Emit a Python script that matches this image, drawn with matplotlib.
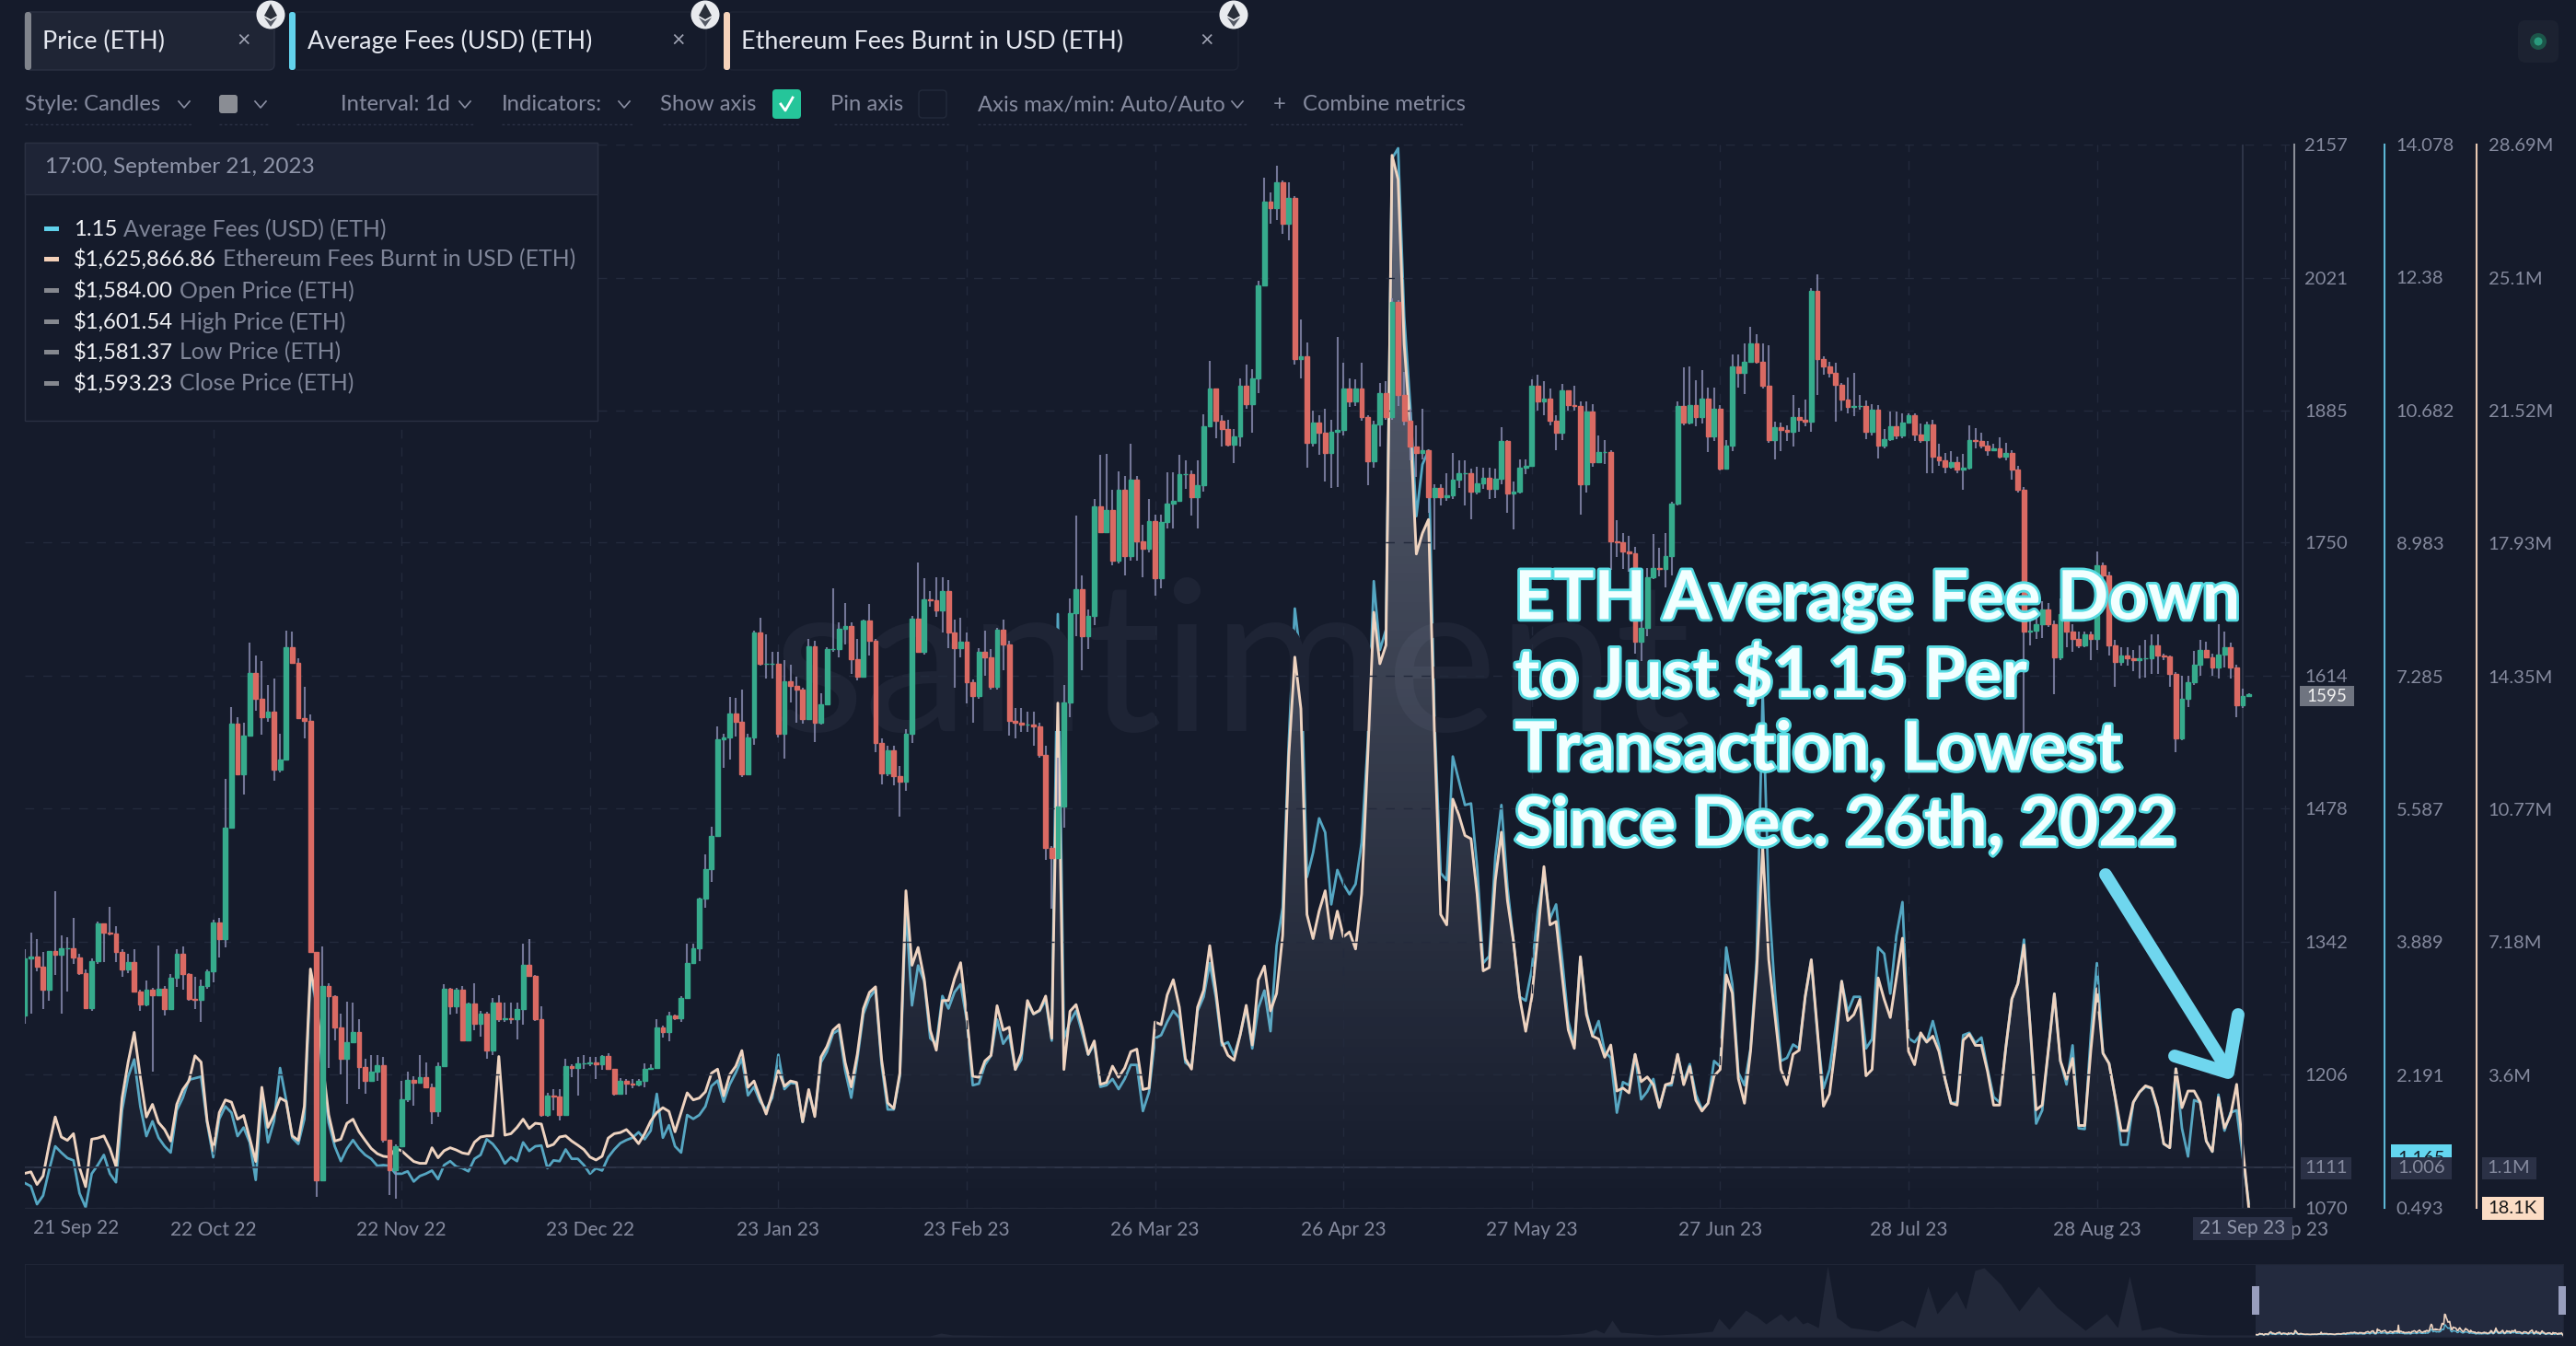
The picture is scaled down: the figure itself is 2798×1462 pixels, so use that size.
import matplotlib
matplotlib.use('Agg')
import matplotlib.pyplot as plt
import matplotlib.patheffects as pe
from matplotlib.patches import Rectangle, FancyBboxPatch, Circle, Polygon
import numpy as np

plt.rcParams['font.family'] = ['Lato', 'DejaVu Sans']

# daily candles, 21 Sep 22 -> 22 Sep 23
first_open = 1267
closes = [
    1325,1327,1317,1293,1333,1329,1335,1335,1326,1310,
    1274,1322,1361,1351,1350,1332,1314,1321,1291,1278,
    1293,1287,1294,1273,1305,1330,1309,1284,1283,1297,
    1312,1362,1345,1459,1565,1513,1553,1617,1590,1572,
    1577,1518,1528,1643,1627,1571,1568,1332,1098,1297,
    1286,1254,1222,1239,1250,1214,1200,1209,1216,1140,
    1109,1133,1181,1201,1198,1204,1193,1169,1215,1294,
    1276,1293,1241,1279,1258,1269,1231,1280,1263,1264,
    1263,1273,1318,1307,1263,1165,1185,1184,1165,1215,
    1213,1218,1218,1219,1217,1225,1212,1187,1200,1197,
    1196,1200,1212,1213,1254,1250,1267,1264,1285,1320,
    1335,1386,1416,1450,1549,1551,1575,1567,1513,1551,
    1658,1626,1626,1626,1555,1608,1604,1600,1570,1644,
    1566,1585,1641,1641,1662,1665,1631,1613,1670,1650,
    1545,1514,1538,1511,1506,1555,1672,1638,1692,1691,
    1681,1701,1658,1642,1649,1607,1593,1638,1633,1603,
    1661,1646,1568,1566,1564,1564,1562,1533,1438,1428,
    1480,1587,1678,1702,1654,1675,1787,1761,1783,1732,
    1804,1736,1814,1751,1744,1772,1714,1771,1790,1793,
    1820,1820,1797,1809,1869,1908,1875,1866,1850,1859,
    1910,1892,1918,2013,2099,2092,2118,2076,2102,1938,
    1941,1852,1873,1862,1842,1863,1865,1908,1894,1908,
    1878,1833,1871,1903,1878,1996,1901,1875,1848,1842,
    1845,1797,1806,1797,1798,1814,1821,1821,1802,1811,
    1816,1805,1815,1854,1800,1802,1827,1829,1910,1894,
    1897,1875,1862,1906,1891,1890,1810,1884,1832,1843,
    1843,1751,1750,1741,1739,1649,1663,1715,1724,1723,
    1736,1790,1890,1873,1891,1878,1897,1859,1887,1826,
    1849,1930,1924,1935,1954,1935,1910,1855,1868,1865,
    1863,1878,1876,1874,2007,1938,1930,1924,1911,1896,
    1889,1890,1890,1863,1886,1849,1856,1869,1860,1873,
    1880,1861,1855,1871,1838,1834,1828,1832,1825,1827,
    1855,1854,1849,1845,1846,1838,1842,1825,1804,1659,
    1660,1667,1682,1667,1633,1677,1659,1652,1645,1656,
    1652,1727,1717,1645,1628,1635,1632,1630,1632,1632,
    1645,1635,1634,1616,1550,1590,1607,1625,1640,1633,
    1622,1636,1643,1622,1584,1593,1595]
highs = [
    1334,1351,1345,1332,1333,1394,1349,1347,1366,1330,
    1314,1325,1363,1360,1378,1358,1334,1330,1334,1293,
    1302,1295,1338,1297,1309,1334,1337,1310,1306,1303,
    1314,1365,1366,1509,1582,1572,1566,1648,1635,1629,
    1605,1611,1555,1660,1659,1632,1603,1574,1332,1337,
    1300,1287,1269,1281,1280,1263,1222,1226,1226,1224,
    1140,1135,1200,1209,1205,1226,1219,1197,1219,1299,
    1295,1295,1297,1280,1300,1271,1270,1285,1287,1280,
    1280,1280,1340,1345,1308,1276,1188,1191,1191,1222,
    1217,1224,1226,1224,1224,1226,1228,1212,1203,1202,
    1202,1202,1218,1217,1263,1256,1270,1268,1286,1340,
    1340,1387,1431,1460,1562,1555,1592,1591,1600,1555,
    1660,1673,1656,1638,1638,1630,1625,1613,1602,1652,
    1650,1596,1643,1703,1669,1688,1669,1652,1671,1687,
    1652,1550,1542,1542,1522,1559,1675,1730,1714,1701,
    1715,1715,1712,1671,1673,1658,1610,1642,1660,1641,
    1663,1671,1650,1581,1581,1577,1577,1566,1542,1440,
    1530,1605,1693,1778,1717,1682,1795,1840,1841,1804,
    1823,1818,1851,1818,1768,1795,1779,1779,1822,1822,
    1840,1834,1824,1834,1881,1936,1908,1880,1876,1866,
    1918,1932,1927,2018,2123,2108,2135,2120,2118,2104,
    1978,1955,1885,1880,1887,1876,1960,1934,1918,1917,
    1934,1880,1875,1913,1915,2000,1998,1925,1887,1870,
    1887,1845,1810,1810,1821,1842,1834,1834,1826,1828,
    1827,1827,1826,1868,1855,1813,1835,1835,1917,1922,
    1915,1908,1880,1912,1905,1910,1894,1894,1892,1860,
    1855,1845,1773,1760,1757,1746,1673,1724,1759,1745,
    1760,1792,1894,1929,1930,1916,1926,1909,1909,1891,
    1855,1942,1942,1954,1971,1963,1954,1952,1874,1873,
    1870,1901,1888,1896,2010,2024,1941,1935,1934,1913,
    1919,1924,1901,1895,1892,1891,1866,1884,1884,1882,
    1882,1882,1872,1874,1876,1851,1842,1844,1838,1841,
    1870,1867,1862,1854,1851,1858,1852,1845,1829,1807,
    1682,1682,1690,1688,1670,1693,1677,1667,1659,1659,
    1659,1741,1730,1720,1651,1643,1643,1640,1645,1651,
    1656,1656,1637,1635,1618,1614,1614,1639,1651,1649,
    1637,1667,1659,1648,1625,1601,1596]
lows = [
    1258,1269,1312,1273,1282,1308,1269,1291,1319,1308,
    1274,1271,1319,1321,1349,1321,1306,1310,1291,1271,
    1276,1209,1286,1267,1273,1296,1293,1282,1273,1260,
    1294,1301,1326,1336,1460,1513,1493,1552,1578,1554,
    1567,1507,1515,1528,1626,1571,1550,1332,1081,1097,
    1213,1241,1206,1176,1239,1191,1187,1200,1200,1137,
    1083,1079,1133,1178,1174,1198,1193,1156,1163,1215,
    1268,1269,1240,1241,1252,1245,1222,1226,1260,1260,
    1258,1242,1257,1306,1261,1163,1163,1170,1159,1165,
    1204,1185,1212,1215,1202,1211,1211,1185,1187,1186,
    1192,1194,1193,1211,1213,1244,1240,1262,1260,1285,
    1319,1322,1377,1403,1450,1520,1528,1552,1510,1513,
    1543,1624,1611,1611,1551,1529,1587,1566,1565,1570,
    1546,1564,1585,1638,1633,1646,1616,1609,1613,1635,
    1536,1503,1511,1502,1470,1496,1545,1638,1636,1685,
    1674,1658,1642,1602,1633,1586,1566,1590,1614,1600,
    1600,1620,1553,1550,1557,1557,1542,1530,1426,1376,
    1428,1459,1572,1654,1620,1641,1666,1761,1760,1727,
    1729,1717,1732,1732,1715,1740,1696,1703,1765,1765,
    1795,1805,1778,1765,1802,1869,1857,1848,1848,1831,
    1848,1887,1862,1903,2013,2076,2080,2066,2059,1932,
    1918,1827,1848,1840,1813,1806,1807,1860,1889,1890,
    1875,1809,1827,1848,1876,1876,1890,1870,1834,1817,
    1835,1781,1743,1788,1793,1795,1806,1788,1774,1799,
    1805,1795,1796,1810,1781,1764,1800,1820,1828,1885,
    1880,1870,1845,1855,1885,1885,1779,1801,1828,1832,
    1830,1722,1735,1723,1720,1637,1629,1654,1713,1716,
    1704,1717,1788,1870,1871,1869,1872,1843,1854,1824,
    1826,1844,1909,1902,1935,1933,1908,1852,1835,1844,
    1854,1848,1863,1869,1863,1901,1922,1919,1874,1885,
    1882,1879,1886,1856,1860,1836,1846,1854,1856,1857,
    1874,1854,1852,1821,1821,1829,1821,1826,1821,1804,
    1825,1846,1846,1839,1844,1836,1834,1814,1801,1553,
    1645,1652,1653,1664,1595,1630,1643,1638,1642,1643,
    1630,1640,1700,1635,1603,1624,1624,1619,1611,1612,
    1616,1616,1630,1603,1536,1548,1582,1605,1614,1632,
    1614,1611,1622,1611,1572,1581,1593]

# Ethereum fees burnt, million USD
burnt = [
    0.95,0.99,0.65,0.88,1.73,2.47,1.93,1.84,2.02,1.10,
    0.59,1.87,1.90,1.96,1.62,1.14,2.98,3.95,4.75,3.55,
    2.47,2.81,2.32,2.13,1.82,2.81,3.21,3.44,4.12,3.95,
    2.36,1.56,2.59,2.93,2.87,2.41,2.51,1.90,1.27,3.27,
    2.19,2.53,2.98,2.89,1.96,1.84,2.76,6.46,5.61,3.90,
    2.53,1.82,1.87,2.30,2.41,2.07,1.84,1.62,1.48,1.41,
    1.39,1.62,1.56,1.41,1.27,1.22,1.22,1.64,1.37,1.56,
    1.64,1.58,1.50,1.47,1.79,1.93,1.96,1.96,4.10,1.98,
    2.02,2.19,2.41,2.16,2.30,2.28,1.67,1.73,1.93,1.96,
    1.82,1.71,1.59,1.39,1.31,1.41,1.90,2.02,2.05,2.13,
    1.96,1.75,2.02,2.36,2.59,2.72,2.62,2.07,2.59,3.12,
    2.93,2.98,3.15,3.65,3.76,3.04,3.61,3.84,4.26,3.27,
    3.44,2.98,2.55,3.10,3.72,3.30,3.44,3.40,2.34,3.21,
    2.48,4.08,4.37,4.81,4.96,3.94,3.28,4.16,5.39,5.83,
    5.98,4.01,2.85,2.70,3.65,8.57,6.56,7.04,6.20,4.81,
    4.27,5.61,5.61,6.20,6.63,5.18,3.57,3.54,3.98,4.13,
    5.47,4.81,4.89,3.75,4.19,5.61,5.25,5.35,5.73,4.59,
    13.63,3.75,5.32,5.50,4.89,4.16,4.52,3.35,3.40,3.84,
    3.54,3.79,4.23,4.30,3.21,3.25,5.03,4.96,5.76,6.17,
    5.43,4.04,3.76,5.43,5.89,7.09,5.89,4.50,4.13,4.00,
    4.68,5.48,4.41,6.17,6.54,5.33,5.80,7.37,12.19,14.87,
    13.48,7.93,7.28,8.02,8.57,7.28,8.02,7.33,7.46,7.00,
    8.48,12.19,16.08,14.69,15.19,28.40,27.75,23.30,21.08,17.65,
    18.21,18.58,12.74,7.93,7.65,11.04,10.61,10.06,9.97,8.48,
    6.41,6.50,8.85,10.15,8.30,7.19,5.70,4.78,5.70,7.37,
    9.22,7.65,7.74,6.26,4.82,4.32,6.79,5.23,4.65,4.57,
    4.08,4.41,3.17,3.25,3.12,4.16,3.42,3.55,3.34,2.73,
    3.34,3.39,4.16,3.34,3.83,2.92,2.63,2.84,3.58,3.75,
    6.30,5.81,3.50,2.84,4.24,6.38,9.76,6.71,5.23,3.75,
    3.34,4.16,4.27,5.72,6.71,4.82,2.76,3.09,4.41,6.13,
    5.07,5.23,5.64,3.58,3.75,6.22,5.64,5.15,6.22,7.29,
    4.24,3.88,4.74,4.49,4.65,4.24,3.50,2.84,2.79,4.54,
    4.70,4.40,4.40,3.70,2.79,2.79,4.33,5.65,6.07,7.11,
    4.95,2.66,2.79,4.26,5.79,3.98,3.49,4.05,2.24,2.24,
    4.26,5.93,4.19,3.91,3.00,2.10,2.10,2.87,3.14,3.31,
    3.25,2.72,1.75,1.64,3.77,2.72,3.17,3.17,2.87,1.82,
    1.54,3.00,2.17,2.52,3.35,1.63,0.018]

# average fee, USD
fees = [
    0.81,0.77,0.54,0.65,0.98,1.28,1.20,1.13,1.10,0.68,
    0.50,0.93,1.04,1.17,0.93,0.82,1.74,2.17,2.39,1.79,
    1.41,1.60,1.39,1.28,1.20,1.74,1.90,2.13,2.15,2.17,
    1.58,1.14,1.63,1.79,1.71,1.41,1.52,1.33,0.85,1.95,
    1.33,1.60,2.28,1.87,1.39,1.31,1.63,3.47,3.09,2.20,
    1.58,1.28,1.09,1.25,1.36,1.25,1.17,1.12,1.03,1.04,
    1.03,0.93,0.93,0.96,0.83,0.90,0.93,0.97,0.86,1.04,
    1.09,1.02,1.00,0.96,1.12,1.17,1.37,1.31,1.21,1.06,
    1.14,1.09,1.33,1.22,1.28,1.29,1.00,1.10,1.09,1.24,
    1.12,1.12,1.04,0.93,1.00,0.97,1.14,1.24,1.32,1.36,
    1.39,1.46,1.37,1.48,1.95,1.39,1.55,1.28,1.20,1.68,
    1.63,1.68,1.79,2.05,2.12,1.85,2.07,2.22,2.40,1.93,
    2.04,1.85,1.75,1.90,2.45,2.01,2.09,2.08,1.59,1.97,
    1.68,2.35,2.49,2.72,2.77,2.25,1.90,2.39,2.97,3.18,
    3.28,2.32,1.75,1.75,2.18,4.32,3.08,3.59,3.39,2.66,
    2.59,3.20,3.04,3.25,3.35,2.90,2.06,2.08,2.32,2.44,
    2.90,2.59,2.70,2.26,2.39,3.11,2.97,3.01,3.15,2.63,
    8.08,2.66,2.87,3.01,2.73,2.45,2.59,2.04,2.06,2.14,
    2.01,2.14,2.32,2.32,1.73,1.97,2.66,2.70,2.87,3.01,
    2.92,2.35,2.29,3.01,3.19,3.62,3.19,2.57,2.61,2.44,
    2.70,3.05,2.53,3.05,3.27,2.75,3.84,4.33,6.43,8.15,
    7.49,4.72,5.03,5.47,5.29,4.37,4.81,4.63,4.50,4.63,
    5.16,6.43,8.50,7.62,7.88,13.90,14.03,11.88,10.74,9.33,
    9.99,10.17,6.70,4.77,4.68,6.26,5.95,5.64,5.66,4.85,
    3.62,3.71,4.98,5.64,4.59,3.89,3.19,3.14,3.54,4.28,
    4.77,4.19,4.37,3.67,2.88,2.57,3.70,3.00,2.69,2.88,
    2.49,2.41,1.71,2.10,2.06,2.45,1.88,1.98,2.14,1.77,
    2.06,2.06,2.45,2.10,2.33,1.94,1.75,1.83,2.37,2.30,
    3.82,3.35,2.22,2.06,2.53,3.66,7.09,4.44,3.27,2.37,
    2.41,2.58,2.53,3.19,3.66,2.72,2.02,2.26,2.80,3.39,
    3.00,3.19,3.19,2.53,2.65,3.82,3.74,3.23,3.97,4.40,
    2.66,2.61,2.71,2.61,2.88,2.57,2.14,1.83,1.84,2.70,
    2.73,2.60,2.67,2.27,1.91,1.84,2.53,3.16,3.36,3.92,
    2.83,1.57,1.74,2.50,3.23,2.37,2.07,2.57,1.51,1.50,
    2.70,3.62,2.47,2.34,1.91,1.30,1.30,1.84,1.97,2.04,
    2.02,1.74,1.31,1.26,2.27,1.51,1.15,1.87,1.84,1.35,
    1.21,1.94,1.48,1.71,1.74,1.15,0.55]

# overview strip under the chart
nav_pos = [27,860,1010,1022,1035,1050,1100,1600,1668,1690,1720,1733,1742,1751,1760,1775,1800,1840,1860,
           1867,1878,1896,1908,1918,1934,1942,1950,1958,1963,1975,1985,1995,2010,2040,2066,2080,2094,2104,
           2125,2135,2145,2155,2173,2193,2214,2234,2265,2288,2300,2313,2326,2346,2366,2400,2450]
nav_level = [1,1,1,4,2,2,1,1,2,2,4,8,4,18,5,4,2,4,6,
             20,8,29,22,14,25,17,23,14,16,10,77,21,10,6,18,10,55,25,
             50,30,72,75,57,28,55,32,7,25,10,66,7,11,4,2,2]

price_ticks = [1070, 1111, 1206, 1342, 1478, 1614, 1750, 1885, 2021, 2157]
fee_ticks = [0.493, 1.006, 2.191, 3.889, 5.587, 7.285, 8.983, 10.682, 12.38, 14.078]
fee_labels = ['0.493', '', '2.191', '3.889', '5.587', '7.285', '8.983', '10.682', '12.38', '14.078']
burnt_ticks = [0.0181, 1.1, 3.6, 7.18, 10.77, 14.35, 17.93, 21.52, 25.1, 28.69]
burnt_labels = ['', '', '3.6M', '7.18M', '10.77M', '14.35M', '17.93M', '21.52M', '25.1M', '28.69M']
date_ticks = [31, 62, 93, 124, 155, 186, 217, 248, 279, 310, 341, 372]
date_labels = ['22 Oct 22', '22 Nov 22', '23 Dec 22', '23 Jan 23', '23 Feb 23', '26 Mar 23',
               '26 Apr 23', '27 May 23', '27 Jun 23', '28 Jul 23', '28 Aug 23', '28 Sep 23']

W, H = 2798, 1462
BG = '#151b2b'
GREEN = '#36ab8c'
RED = '#da6a63'
WICK = '#8b8eb3'
BLUE = '#5cb6d4'
CREAM = '#eed3c0'
MUTED = '#858a9e'

fig = plt.figure(figsize=(W / 100, H / 100), dpi=100, facecolor=BG)


def px_rect(x0, y0, x1, y1):
    return [x0 / W, 1 - y1 / H, (x1 - x0) / W, (y1 - y0) / H]


ax = fig.add_axes(px_rect(27, 157, 2492, 1312))
ax_fee = ax.twinx()
ax_burnt = ax.twinx()
ax_fee.set_zorder(1)
ax_burnt.set_zorder(2)
ax.set_zorder(3)
for a in (ax, ax_fee, ax_burnt):
    a.patch.set_visible(False)
    for side in ('left', 'top'):
        a.spines[side].set_visible(False)
    a.spines['bottom'].set_color('#232939')

days = np.arange(len(closes))
opens = np.array([first_open] + closes[:-1])
c = np.array(closes)

# area under burnt line, vertical gradient
grad = np.zeros((256, 2, 4))
grad[:, :, :3] = (0.76, 0.79, 0.86)
grad[:, :, 3] = np.linspace(0.44, 0.0, 256)[:, None]
im = ax_burnt.imshow(grad, extent=[0, 366, 0, 28.69], aspect='auto', origin='upper', zorder=1)
area = Polygon(np.r_[[[0, 0]], np.c_[days, burnt], [[366, 0]]], transform=ax_burnt.transData,
               facecolor='none', edgecolor='none')
im.set_clip_path(area)

ax_fee.plot(days, fees, color=BLUE, lw=2.0, alpha=0.9)
ax_burnt.plot(days, burnt, color=CREAM, lw=2.1, zorder=3)

# candles
ax.vlines(days, lows, highs, color=WICK, lw=1.5, alpha=0.8, zorder=2)
colors = [GREEN if c[i] >= opens[i] else RED for i in range(len(c))]
ax.bar(days, np.abs(c - opens), bottom=np.minimum(c, opens), width=0.74, color=colors,
       edgecolor=colors, linewidth=1, zorder=3)

ax.set_xlim(0, 2465 / 6.6)
ax.set_ylim(1070, 2157)
ax_fee.set_ylim(0.493, 14.078)
ax_burnt.set_ylim(0.0181, 28.69)

ax.set_xticks(date_ticks)
ax.set_xticklabels(date_labels)
ax.yaxis.tick_right()
ax.set_yticks(price_ticks)
ax.set_yticklabels([str(v) for v in price_ticks])
ax_fee.set_yticks(fee_ticks)
ax_fee.set_yticklabels(fee_labels)
ax_burnt.set_yticks(burnt_ticks)
ax_burnt.set_yticklabels(burnt_labels)
ax.tick_params(axis='x', length=0, pad=10, labelsize=15, labelcolor=MUTED)
ax.tick_params(axis='y', length=0, pad=8, labelsize=14.5, labelcolor=MUTED)
ax_fee.tick_params(axis='y', length=0, pad=9, labelsize=14.5, labelcolor=MUTED)
ax_burnt.tick_params(axis='y', length=0, pad=9, labelsize=14.5, labelcolor=MUTED)
ax.grid(True, color='#232a3c', lw=1, ls=(0, (7, 7)), zorder=0)

ax.spines['right'].set_color('#8a8e98')
ax_fee.spines['right'].set_position(('outward', 98 * 0.72))
ax_fee.spines['right'].set_color(BLUE)
ax_burnt.spines['right'].set_position(('outward', 198 * 0.72))
ax_burnt.spines['right'].set_color('#e8c8b2')
for a in (ax, ax_fee, ax_burnt):
    a.spines['right'].set_linewidth(1.5)

# crosshair on the last full day
ax.axhline(1111, color='#30374b', lw=1.3, zorder=1)
ax.axvline(365, color='#30374b', lw=1.3, zorder=1)

# watermark
ax_burnt.text(0.532, 0.505, 'santiment', transform=ax_burnt.transAxes, ha='center', va='center',
              fontsize=165, color='#1e2435', zorder=0)

# overview strip
ax_nav = fig.add_axes(px_rect(27, 1373, 2784, 1452))
ax_nav.set_facecolor(BG)
ax_nav.fill_between(nav_pos, nav_level, color='#222839', lw=0)
ax_nav.axvspan(2450, 2784, color='#232a3e', lw=0)
ax_nav.set_xlim(27, 2784)
ax_nav.set_ylim(0, 79)
ax_nav.set_xticks([])
ax_nav.set_yticks([])
for s in ax_nav.spines.values():
    s.set_color('#1f2536')

ax_sel = fig.add_axes(px_rect(2450, 1373, 2784, 1452))
ax_sel.patch.set_visible(False)
ax_sel.axis('off')
ax_sel.plot(days, fees, color=BLUE, lw=1.0)
ax_sel.plot(days, burnt, color=CREAM, lw=1.2)
ax_sel.set_xlim(0, 366)
ax_sel.set_ylim(-2, 96)

# everything that belongs to the app chrome, in pixel coordinates
ui = fig.add_axes([0, 0, 1, 1], zorder=10)
ui.set_xlim(0, W)
ui.set_ylim(H, 0)
ui.axis('off')
ui.patch.set_visible(False)


def label(x, y, s, size=17.2, color=MUTED, **kw):
    kw.setdefault('ha', 'left')
    return ui.text(x, y + 2, s, fontsize=size, color=color, va='center', **kw)


def box(x0, y0, x1, y1, face, edge='none', lw=1, z=1, round_px=0):
    if round_px:
        p = FancyBboxPatch((x0 + round_px, y0 + round_px), x1 - x0 - 2 * round_px, y1 - y0 - 2 * round_px,
                           boxstyle='round,pad=%d' % round_px, fc=face, ec=edge, lw=lw, zorder=z)
    else:
        p = Rectangle((x0, y0), x1 - x0, y1 - y0, fc=face, ec=edge, lw=lw, zorder=z)
    ui.add_patch(p)


def chevron(x, y):
    ui.plot([x - 6, x, x + 6], [y - 3, y + 4, y - 3], color='#8a8fa3', lw=1.2)


def eth_icon(x, y):
    ui.add_patch(Circle((x, y), 15.5, fc='#e8eaee', ec='none', zorder=5))
    ui.add_patch(Polygon([[x, y - 12], [x + 7, y + 1], [x, y + 5], [x - 7, y + 1]], fc='#2a2f3a', ec='none', zorder=6))
    ui.add_patch(Polygon([[x - 7, y + 3], [x, y + 7], [x + 7, y + 3], [x, y + 13]], fc='#555a66', ec='none', zorder=6))


# metric tabs
box(27, 13, 298, 76, '#1f2535', '#2b3143', round_px=6)
box(27, 13, 34, 76, '#80848c', round_px=3, z=2)
label(46, 43, 'Price (ETH)', 19.4, '#e4e7ef')
label(265, 41, '×', 18, '#a0a4b4', ha='center')
box(318, 13, 767, 76, BG, '#1e2435', round_px=6)
box(314, 13, 321, 76, '#63d2ec', round_px=3, z=2)
label(334, 43, 'Average Fees (USD) (ETH)', 19.4, '#e4e7ef')
label(737, 41, '×', 18, '#a0a4b4', ha='center')
box(790, 13, 1345, 76, BG, '#1e2435', round_px=6)
box(786, 13, 793, 76, '#f6d3bb', round_px=3, z=2)
label(805, 43, 'Ethereum Fees Burnt in USD (ETH)', 19.4, '#e4e7ef')
label(1311, 41, '×', 18, '#a0a4b4', ha='center')
eth_icon(294, 16)
eth_icon(766, 16)
eth_icon(1340, 16)

# toolbar
label(27, 112, 'Style: Candles')
chevron(200, 113)
box(238, 103, 258, 123, '#8a8d94', round_px=3)
chevron(283, 113)
label(370, 112, 'Interval: 1d')
chevron(505, 113)
label(545, 112, 'Indicators:')
chevron(678, 113)
label(717, 112, 'Show axis')
box(839, 97, 870, 129, '#25c59a', round_px=4)
ui.plot([848, 853, 861], [113, 120, 106], color='white', lw=2)
label(902, 112, 'Pin axis')
box(998, 98, 1028, 128, BG, '#232a3b', round_px=4)
label(1062, 112, 'Axis max/min: Auto/Auto')
chevron(1344, 113)
label(1390, 111, '+', 17, ha='center')
label(1415, 112, 'Combine metrics')
for x0, x1 in [(27, 208), (238, 292), (322, 514), (545, 687), (720, 870), (906, 1030), (1062, 1356), (1380, 1590)]:
    ui.plot([x0, x1], [135, 135], color='#2b3145', lw=1, ls=(0, (2, 2)))

box(2735, 22, 2779, 68, '#1c2231', round_px=8)
ui.add_patch(Circle((2757, 45), 9, fc='#1c5549', ec='none', zorder=3))
ui.add_patch(Circle((2757, 45), 4.5, fc='#2a9a7d', ec='none', zorder=4))

# tooltip panel
box(27, 155, 649, 457, BG, '#2a3042', z=3)
box(27, 155, 649, 211, '#1e2436', '#2a3042', z=3)
label(49, 180, '17:00, September 21, 2023', 17.5, '#8f95a9', zorder=4)
rows = [(248, '1.15', 'Average Fees (USD) (ETH)', 134, '#5fd0ea'),
        (281, '$1,625,866.86', 'Ethereum Fees Burnt in USD (ETH)', 242, '#f3d0b8'),
        (315, '$1,584.00', 'Open Price (ETH)', 195, '#85888f'),
        (349, '$1,601.54', 'High Price (ETH)', 195, '#85888f'),
        (382, '$1,581.37', 'Low Price (ETH)', 195, '#85888f'),
        (416, '$1,593.23', 'Close Price (ETH)', 195, '#85888f')]
for y, val, name, x_name, col in rows:
    box(48, y - 2.5, 64, y + 2.5, col, z=4)
    label(80, y - 1, val, 17.2, '#f0f1f5', zorder=4)
    label(x_name, y - 1, name, 17.9, '#7f8598', zorder=4)

# value tags on the axes
box(2498, 745, 2557, 767, '#6f7480', z=3)
label(2527, 754, '1595', 13.5, '#f0f0f0', ha='center', zorder=4)
box(2499, 1257, 2554, 1281, '#2b3146', z=3)
label(2527, 1267, '1111', 14.5, MUTED, ha='center', zorder=4)
box(2597, 1243, 2663, 1268, '#63d6f0', z=3)
label(2630, 1256, '1.165', 14.5, '#15202b', ha='center', zorder=4)
box(2597, 1257, 2663, 1281, '#2b3146', z=5)
label(2630, 1267, '1.006', 14.5, MUTED, ha='center', zorder=6)
box(2696, 1257, 2755, 1281, '#2b3146', z=3)
label(2725, 1267, '1.1M', 14.5, MUTED, ha='center', zorder=4)
box(2696, 1300, 2763, 1325, '#fbdcc4', z=3)
label(2729, 1310, '18.1K', 14.5, '#1b1b1b', ha='center', zorder=4)

label(36, 1332, '21 Sep 22', 15)
box(2382, 1322, 2490, 1347, '#2a3045', z=3)
label(2436, 1332, '21 Sep 23', 15, '#9096aa', ha='center', zorder=4)

# handles of the overview strip
box(2446, 1397, 2454, 1428, '#989ebd', z=3)
box(2779, 1397, 2787, 1428, '#989ebd', z=3)

# headline over the chart
headline = ['ETH Average Fee Down', 'to Just $1.15 Per', 'Transaction, Lowest', 'Since Dec. 26th, 2022']
for y, line in zip([653, 735, 815, 897], headline):
    ui.text(1645, y, line, fontsize=53, fontweight='bold', color='#f2ffff', va='center', zorder=8,
            path_effects=[pe.withStroke(linewidth=4, foreground='#55dbe2')])

# arrow
ARROW = '#6fd6ee'
ui.plot([2287, 2420], [950, 1163], color=ARROW, lw=10, solid_capstyle='round', zorder=8)
ui.plot([2362, 2420, 2431], [1147, 1165, 1102], color=ARROW, lw=10, solid_capstyle='round',
        solid_joinstyle='round', zorder=8)

fig.savefig('out.png', dpi=100, facecolor=BG)
